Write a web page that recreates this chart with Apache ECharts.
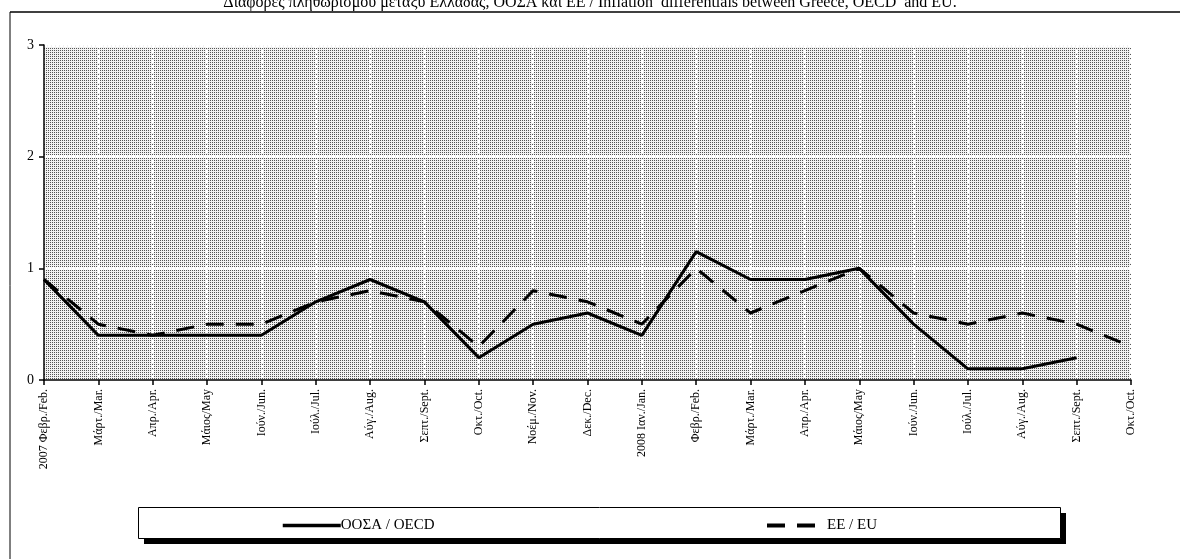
<!DOCTYPE html>
<html>
<head>
<meta charset="utf-8">
<title>Διαφορές πληθωρισμού</title>
<script src="https://cdn.jsdelivr.net/npm/echarts@6/dist/echarts.min.js"></script>
<style>
  html, body { margin: 0; padding: 0; background: #fff; }
  #main { width: 1180px; height: 559px; }
</style>
</head>
<body>
<div id="main"></div>
<script>
// μήνες (κατηγορίες)
var months = [
  '2007 Φεβρ./Feb.', 'Μάρτ./Mar.', 'Απρ./Apr.', 'Μάιος/May', 'Ιούν./Jun.',
  'Ιούλ./Jul.', 'Αύγ./Aug.', 'Σεπτ./Sept.', 'Οκτ./Oct.', 'Νοέμ./Nov.',
  'Δεκ./Dec.', '2008 Ιαν./Jan.', 'Φεβρ./Feb.', 'Μάρτ./Mar.', 'Απρ./Apr.',
  'Μάιος/May', 'Ιούν./Jun.', 'Ιούλ./Jul.', 'Αύγ./Aug.', 'Σεπτ./Sept.', 'Οκτ./Oct.'
];
var oecd = [0.9, 0.4, 0.4, 0.4, 0.4, 0.7, 0.9, 0.7, 0.2, 0.5, 0.6, 0.4,
            1.15, 0.9, 0.9, 1.0, 0.5, 0.1, 0.1, 0.2, null];
var eu   = [0.9, 0.5, 0.4, 0.5, 0.5, 0.7, 0.8, 0.7, 0.3, 0.8, 0.7, 0.5,
            1.0, 0.6, 0.8, 1.0, 0.6, 0.5, 0.6, 0.5, 0.3];

var serif = '"Liberation Serif", "Times New Roman", serif';

// stipple background like the original: small regular dot grid
var pc = document.createElement('canvas');
pc.width = 2; pc.height = 2;
var g = pc.getContext('2d');
g.fillStyle = '#f2f2f2'; g.fillRect(0, 0, 2, 2);
g.fillStyle = '#555555';
g.fillRect(0, 0, 1, 1);

var chart = echarts.init(document.getElementById('main'));

chart.setOption({
  backgroundColor: '#fff',
  animation: false,
  title: {
    text: 'Διαφορές πληθωρισμού μεταξύ Ελλάδας, ΟΟΣΑ και ΕΕ / Inflation  differentials between Greece, OECD  and EU.',
    left: 'center',
    top: -10,
    textStyle: { fontFamily: serif, fontSize: 16, fontWeight: 'normal', color: '#000' }
  },
  grid: {
    left: 44, right: 49, top: 45, bottom: 179,
    show: true,
    borderWidth: 0,
    backgroundColor: { image: pc, repeat: 'repeat' }
  },
  xAxis: {
    type: 'category',
    data: months,
    boundaryGap: false,
    axisLine: { lineStyle: { color: '#000', width: 1.5 } },
    axisTick: { show: true, alignWithLabel: true, length: 5, lineStyle: { color: '#000', width: 1.5 } },
    axisLabel: { rotate: 90, interval: 0, fontFamily: serif, fontSize: 12, color: '#000', margin: 9 },
    splitLine: { show: true, lineStyle: { color: '#fff', width: 2, type: [3, 2] } }
  },
  yAxis: {
    type: 'value',
    min: 0, max: 3, interval: 1,
    axisLine: { show: true, lineStyle: { color: '#000', width: 1.5 } },
    axisTick: { show: true, length: 5, lineStyle: { color: '#000', width: 1.5 } },
    axisLabel: { fontFamily: serif, fontSize: 14, color: '#000', margin: 10 },
    splitLine: { show: true, lineStyle: { color: '#fff', width: 3, type: [3, 1] } }
  },
  legend: [
    {
      data: ['ΟΟΣΑ / OECD'],
      left: 276, top: 513,
      itemWidth: 58, itemHeight: 12, itemGap: 0,
      itemStyle: { opacity: 0 },
      lineStyle: { width: 3.5 },
      textStyle: { fontFamily: serif, fontSize: 15, color: '#000', padding: [0, 0, 0, -5] }
    },
    {
      data: ['ΕΕ / EU'],
      left: 760, top: 513,
      itemWidth: 58, itemHeight: 12,
      itemStyle: { opacity: 0 },
      lineStyle: { width: 4 },
      textStyle: { fontFamily: serif, fontSize: 15, color: '#000', padding: [0, 0, 0, -3] }
    }
  ],
  graphic: [
    { type: 'line', shape: { x1: 10, y1: 12, x2: 1180, y2: 12 }, style: { stroke: '#000', lineWidth: 1.5 }, z: 0 },
    { type: 'line', shape: { x1: 10, y1: 12, x2: 10, y2: 559 }, style: { stroke: '#000', lineWidth: 1 }, z: 0 },
    { type: 'rect', shape: { x: 144, y: 513, width: 922, height: 31 }, style: { fill: '#000' }, z: 0 },
    { type: 'rect', shape: { x: 138.5, y: 507.5, width: 922, height: 31 }, style: { fill: '#fff', stroke: '#000', lineWidth: 1 }, z: 0 }
  ],
  series: [
    {
      name: 'ΟΟΣΑ / OECD',
      type: 'line',
      data: oecd,
      symbol: 'none',
      color: '#000',
      lineStyle: { color: '#000', width: 3 },
      z: 3
    },
    {
      name: 'ΕΕ / EU',
      type: 'line',
      data: eu,
      symbol: 'none',
      color: '#000',
      lineStyle: { color: '#000', width: 3, type: [18, 12] },
      z: 2
    }
  ]
});
</script>
</body>
</html>
